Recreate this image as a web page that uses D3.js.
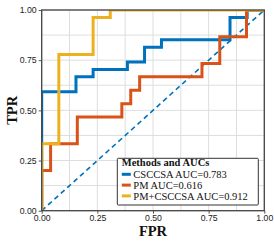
<!DOCTYPE html>
<html>
<head>
<meta charset="utf-8">
<script src="https://cdn.jsdelivr.net/npm/d3@7"></script>
<style>
  body { margin: 0; background: #fff; }
  svg { display: block; font-family: 'Liberation Serif', 'Times New Roman', serif; }
  .tick-text { font-size: 8.7px; fill: #222; }
  .axis-label { font-size: 14.5px; font-weight: bold; fill: #111; }
</style>
</head>
<body>
<div id="chart"></div>
<script>
// ROC data (corner points of each step curve)
const methods = ['CSCCSA', 'PM', 'PM+CSCCSA'];
const aucs = [0.783, 0.616, 0.912];
const colors = ['#0072BD', '#D95319', '#EDB120'];

const csccsaFpr = [0, 0, 0.154, 0.154, 0.231, 0.231, 0.385, 0.385, 0.462, 0.462, 0.538, 0.538, 0.846, 0.846, 0.923, 0.923, 1];
const csccsaTpr = [0, 0.593, 0.593, 0.667, 0.667, 0.704, 0.704, 0.741, 0.741, 0.815, 0.815, 0.852, 0.852, 0.963, 0.963, 1, 1];

const pmFpr = [0, 0, 0.04, 0.04, 0.16, 0.16, 0.36, 0.36, 0.40, 0.40, 0.44, 0.44, 0.72, 0.72, 0.80, 0.80, 0.92, 0.92, 1];
const pmTpr = [0, 0.2, 0.2, 0.333, 0.333, 0.467, 0.467, 0.533, 0.533, 0.6, 0.6, 0.667, 0.667, 0.733, 0.733, 0.867, 0.867, 1, 1];

const comboFpr = [0, 0, 0.077, 0.077, 0.231, 0.231, 0.308, 0.308, 1];
const comboTpr = [0, 0.333, 0.333, 0.778, 0.778, 0.963, 0.963, 1, 1];

const tickValues = [0, 0.25, 0.5, 0.75, 1];
const gridValues = [0, 0.125, 0.25, 0.375, 0.5, 0.625, 0.75, 0.875, 1];
const chanceLine = [0, 1];

const series = [
  {fpr: csccsaFpr, tpr: csccsaTpr},
  {fpr: pmFpr, tpr: pmTpr},
  {fpr: comboFpr, tpr: comboTpr}
];

const width = 274, height = 241;
const margin = {top: 10, right: 9.7, bottom: 30.3, left: 41.7};

const svg = d3.select('#chart').append('svg')
  .attr('width', width).attr('height', height)
  .attr('viewBox', `0 0 ${width} ${height}`);

const x = d3.scaleLinear().domain([0, 1]).range([margin.left, width - margin.right]);
const y = d3.scaleLinear().domain([0, 1]).range([height - margin.bottom, margin.top]);

svg.append('defs').append('clipPath').attr('id', 'plot-clip')
  .append('rect')
  .attr('x', x(0)).attr('y', y(1))
  .attr('width', x(1) - x(0)).attr('height', y(0) - y(1));

// grid
const grid = svg.append('g').attr('class', 'grid');
grid.selectAll('.gx').data(gridValues).enter().append('line')
  .attr('x1', d => x(d)).attr('x2', d => x(d))
  .attr('y1', y(0)).attr('y2', y(1))
  .attr('stroke', '#dedede').attr('stroke-width', 1);
grid.selectAll('.gy').data(gridValues).enter().append('line')
  .attr('y1', d => y(d)).attr('y2', d => y(d))
  .attr('x1', x(0)).attr('x2', x(1))
  .attr('stroke', '#dedede').attr('stroke-width', 1);

// chance diagonal
const plot = svg.append('g').attr('clip-path', 'url(#plot-clip)');
plot.append('line')
  .attr('x1', x(chanceLine[0])).attr('y1', y(chanceLine[0]))
  .attr('x2', x(chanceLine[1])).attr('y2', y(chanceLine[1]))
  .attr('stroke', colors[0]).attr('stroke-width', 1.6)
  .attr('stroke-dasharray', '5,3.6');

// ROC curves
const lineFun = d3.line().x(d => x(d[0])).y(d => y(d[1]));
series.forEach((s, i) => {
  const pts = s.fpr.map((f, k) => [f, s.tpr[k]]);
  plot.append('path')
    .attr('d', lineFun(pts))
    .attr('fill', 'none')
    .attr('stroke', colors[i])
    .attr('stroke-width', 3)
    .attr('stroke-linejoin', 'miter');
});

// axes
const xAxis = d3.axisBottom(x).tickValues(tickValues).tickFormat(d3.format('.2f')).tickSize(3).tickPadding(1.5);
const yAxis = d3.axisLeft(y).tickValues(tickValues).tickFormat(d3.format('.2f')).tickSize(3).tickPadding(2);

const gx = svg.append('g').attr('transform', `translate(0,${y(0)})`).call(xAxis);
const gy = svg.append('g').attr('transform', `translate(${x(0)},0)`).call(yAxis);
[gx, gy].forEach(g => {
  g.select('.domain').remove();
  g.selectAll('line').attr('stroke', '#555');
  g.selectAll('text').attr('class', 'tick-text').attr('font-family', null).attr('font-size', null);
});

// frame
svg.append('rect')
  .attr('x', x(0)).attr('y', y(1))
  .attr('width', x(1) - x(0)).attr('height', y(0) - y(1))
  .attr('fill', 'none').attr('stroke', '#444').attr('stroke-width', 1.3);

// axis labels
svg.append('text').attr('class', 'axis-label')
  .attr('x', (x(0) + x(1)) / 2).attr('y', 235.5)
  .attr('text-anchor', 'middle').text('FPR');
svg.append('text').attr('class', 'axis-label')
  .attr('transform', `translate(17,${(y(0) + y(1)) / 2}) rotate(-90)`)
  .attr('text-anchor', 'middle').text('TPR');

// legend
const legend = svg.append('g').attr('transform', 'translate(117.3,158.3)');
legend.append('rect')
  .attr('width', 141).attr('height', 46.7).attr('rx', 1)
  .attr('fill', '#fff').attr('stroke', '#333').attr('stroke-width', 1);
legend.append('text')
  .attr('x', 4.5).attr('y', 8)
  .attr('font-size', 10.5).attr('font-weight', 'bold').attr('fill', '#111')
  .text('Methods and AUCs');
const entries = legend.selectAll('.entry').data(methods).enter().append('g')
  .attr('transform', (d, i) => `translate(0,${16 + i * 10.8})`);
entries.append('line')
  .attr('x1', 4.5).attr('x2', 13.5).attr('y1', 0).attr('y2', 0)
  .attr('stroke', (d, i) => colors[i]).attr('stroke-width', 3);
entries.append('text')
  .attr('x', 16).attr('y', 0).attr('dy', '0.35em')
  .attr('font-size', 10.5).attr('fill', '#111')
  .text((d, i) => `${d} AUC=${aucs[i].toFixed(3)}`);
</script>
</body>
</html>
